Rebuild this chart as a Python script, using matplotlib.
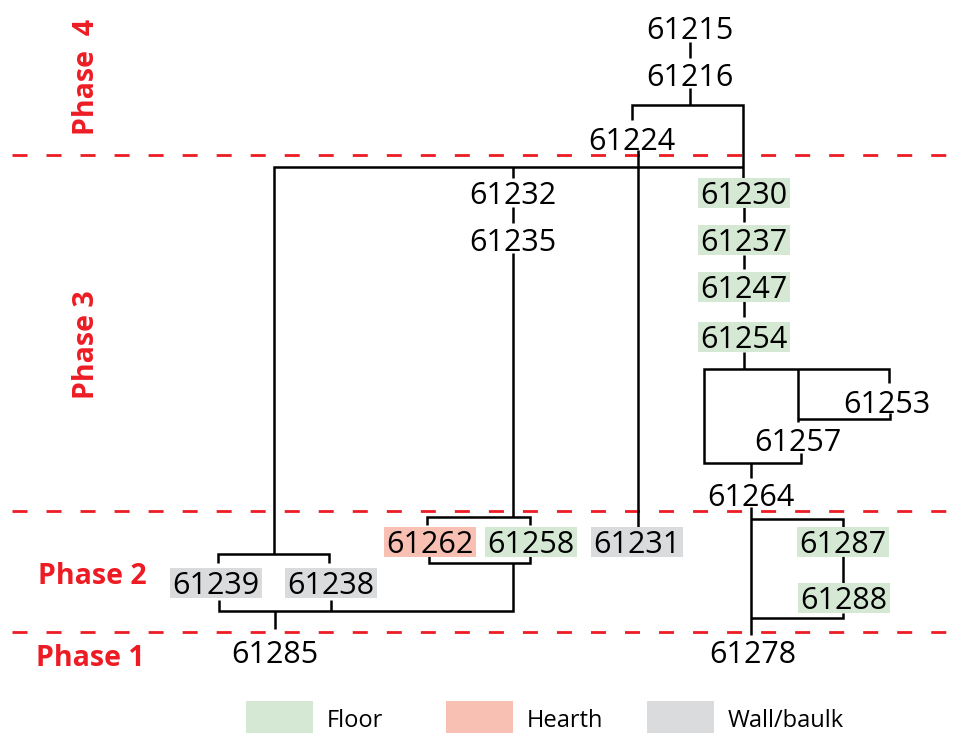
import matplotlib
matplotlib.use('Agg')
import matplotlib.pyplot as plt
from matplotlib.patches import Rectangle

plt.rcParams['font.family'] = ['Open Sans', 'DejaVu Sans']
plt.rcParams['lines.scale_dashes'] = False

# context numbers and where they sit (pixel layout of the matrix)
NODE_IDS = ['61215', '61216', '61224', '61232', '61235', '61230', '61237',
            '61247', '61254', '61253', '61257', '61264', '61262', '61258',
            '61231', '61239', '61238', '61285', '61287', '61288', '61278']
NODE_X = [690, 690, 632, 513, 513, 744, 744, 744, 744, 887, 798, 751,
          430, 531, 637, 216, 331, 275, 843, 844, 753]
NODE_Y = [28, 75, 139, 193, 240, 193, 240, 287, 337, 402, 440, 495,
          542, 542, 542, 583, 583, 652, 542, 598, 652]
NODE_TYPE = [None, None, None, None, None, 'Floor', 'Floor', 'Floor', 'Floor',
             None, None, None, 'Hearth', 'Floor', 'Wall/baulk', 'Wall/baulk',
             'Wall/baulk', None, 'Floor', 'Floor', None]

# legend
CATEGORIES = ['Floor', 'Hearth', 'Wall/baulk']
CAT_COLORS = ['#d5e8d4', '#f8bfb3', '#dadbdd']

# phases
PHASE_LABELS = ['Phase  4', 'Phase 3', 'Phase 2', 'Phase 1']
PHASE_LINES_Y = [155, 511, 632]

# stratigraphic links, as polylines
LINKS = [
    [(690, 42), (690, 58)],
    [(690, 88), (690, 105)],
    [(632, 120), (632, 105), (743, 105), (743, 178)],
    [(274, 554), (274, 167), (743, 167)],
    [(513, 167), (513, 178)],
    [(513, 207), (513, 223)],
    [(513, 253), (513, 517)],
    [(638, 150), (638, 527)],
    [(744, 207), (744, 222)],
    [(744, 255), (744, 269)],
    [(744, 301), (744, 317)],
    [(744, 352), (744, 369)],
    [(889, 383), (889, 369), (704, 369), (704, 463), (801, 463), (801, 453)],
    [(798, 369), (798, 422)],
    [(798, 419), (890, 419), (890, 413)],
    [(751, 463), (751, 478)],
    [(751, 507), (751, 635)],
    [(751, 519), (843, 519), (843, 527)],
    [(843, 556), (843, 584)],
    [(843, 613), (843, 618), (751, 618)],
    [(218, 563), (218, 554), (329, 554), (329, 563)],
    [(219, 600), (219, 611), (513, 611), (513, 563)],
    [(331, 600), (331, 611)],
    [(275, 611), (275, 629)],
    [(427, 525), (427, 517), (530, 517), (530, 525)],
    [(429, 556), (429, 563), (530, 563), (530, 556)],
]

RED = '#ed1c24'

fig = plt.figure(figsize=(9.54, 7.33), dpi=100)
ax = fig.add_axes([0, 0, 1, 1])
ax.set_xlim(0, 954)
ax.set_ylim(733, 0)
ax.axis('off')

colour_of = dict(zip(CATEGORIES, CAT_COLORS))

# phase boundaries
for y in PHASE_LINES_Y:
    ax.plot([12, 946], [y, y], color=RED, lw=2, dashes=(10.8, 13.7), zorder=1)

# links
for line in LINKS:
    xs = [p[0] for p in line]
    ys = [p[1] for p in line]
    ax.plot(xs, ys, color='black', lw=1.8, solid_capstyle='butt',
            solid_joinstyle='miter', zorder=2)

# nodes
for name, x, y, kind in zip(NODE_IDS, NODE_X, NODE_Y, NODE_TYPE):
    if kind is not None:
        ax.add_patch(Rectangle((x - 46, y - 15), 92, 30, facecolor=colour_of[kind],
                               edgecolor='none', zorder=3))
    ax.text(x, y + 11, name, fontsize=22, ha='center', va='baseline', zorder=4)

# phase labels
ax.text(94, 77, PHASE_LABELS[0], color=RED, fontsize=20.5, fontweight='bold',
        rotation=90, rotation_mode='anchor', ha='center', va='baseline')
ax.text(94, 345, PHASE_LABELS[1], color=RED, fontsize=20.5, fontweight='bold',
        rotation=90, rotation_mode='anchor', ha='center', va='baseline')
ax.text(92, 584, PHASE_LABELS[2], color=RED, fontsize=20.5, fontweight='bold',
        ha='center', va='baseline')
ax.text(90, 666, PHASE_LABELS[3], color=RED, fontsize=20.5, fontweight='bold',
        ha='center', va='baseline')

# legend
legend_x = [246, 446, 647]
for lx, cat, col in zip(legend_x, CATEGORIES, CAT_COLORS):
    ax.add_patch(Rectangle((lx, 701), 67, 34, facecolor=col, edgecolor='none'))
    ax.text(lx + 81, 727, cat, fontsize=17, ha='left', va='baseline')

fig.savefig('out.png', dpi=100)
